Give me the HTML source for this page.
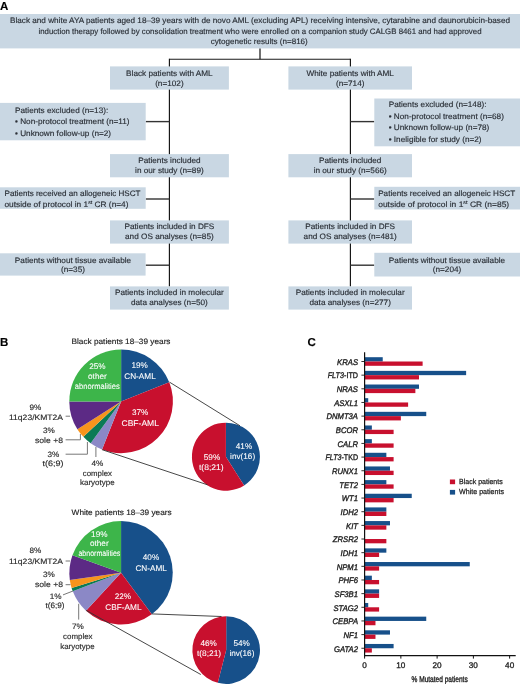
<!DOCTYPE html>
<html><head><meta charset="utf-8"><style>
html,body{margin:0;padding:0;background:#fff;width:520px;height:685px;overflow:hidden}
svg{display:block}
text{font-family:"Liberation Sans",sans-serif;text-rendering:geometricPrecision}
svg{will-change:transform}
</style></head><body>
<svg width="520" height="685" viewBox="0 0 520 685" font-family="Liberation Sans, sans-serif">
<text x="0" y="10.2" font-size="11.5" font-weight="bold" fill="#000" stroke="#000" stroke-width="0.15">A</text>
<line x1="260" y1="48.3" x2="260" y2="59.3" stroke="#333" stroke-width="1.4"/>
<line x1="169.4" y1="59.3" x2="350.4" y2="59.3" stroke="#1a1a1a" stroke-width="1.1"/>
<line x1="169.4" y1="58.8" x2="169.4" y2="286.5" stroke="#111" stroke-width="1.15"/>
<line x1="350.4" y1="58.8" x2="350.4" y2="286.5" stroke="#111" stroke-width="1.15"/>
<line x1="145.7" y1="121.6" x2="169.4" y2="121.6" stroke="#333" stroke-width="1.4"/>
<line x1="350.4" y1="121.6" x2="374.3" y2="121.6" stroke="#333" stroke-width="1.4"/>
<line x1="145.7" y1="199.0" x2="169.4" y2="199.0" stroke="#333" stroke-width="1.4"/>
<line x1="350.4" y1="199.0" x2="374.3" y2="199.0" stroke="#333" stroke-width="1.4"/>
<line x1="145.7" y1="265.2" x2="169.4" y2="265.2" stroke="#333" stroke-width="1.4"/>
<line x1="350.4" y1="265.2" x2="374.3" y2="265.2" stroke="#333" stroke-width="1.4"/>
<rect x="0" y="14" width="520" height="34.4" fill="#c9d7e3"/>
<text x="260" y="23.2" font-size="7.9" text-anchor="middle" textLength="500" lengthAdjust="spacingAndGlyphs" fill="#2a2f36" stroke="#2a2f36" stroke-width="0.15">Black and white AYA patients aged 18–39 years with de novo AML (excluding APL) receiving intensive, cytarabine and daunorubicin-based</text>
<text x="260" y="33.9" font-size="7.9" text-anchor="middle" textLength="443" lengthAdjust="spacingAndGlyphs" fill="#2a2f36" stroke="#2a2f36" stroke-width="0.15">induction therapy followed by consolidation treatment who were enrolled on a companion study CALGB 8461 and had approved</text>
<text x="259.3" y="44.2" font-size="7.9" text-anchor="middle" textLength="97" lengthAdjust="spacingAndGlyphs" fill="#2a2f36" stroke="#2a2f36" stroke-width="0.15">cytogenetic results (n=816)</text>
<rect x="110" y="66.4" width="118.9" height="23.2" fill="#c9d7e3"/>
<text x="169.4" y="75.75" font-size="7.9" text-anchor="middle" textLength="86.59" lengthAdjust="spacingAndGlyphs" fill="#2a2f36" stroke="#2a2f36" stroke-width="0.15">Black patients with AML</text>
<text x="169.4" y="85.85000000000001" font-size="7.9" text-anchor="middle" textLength="28.49" lengthAdjust="spacingAndGlyphs" fill="#2a2f36" stroke="#2a2f36" stroke-width="0.15">(n=102)</text>
<rect x="110" y="154.1" width="118.9" height="23.2" fill="#c9d7e3"/>
<text x="169.4" y="162.9" font-size="7.9" text-anchor="middle" textLength="62.45" lengthAdjust="spacingAndGlyphs" fill="#2a2f36" stroke="#2a2f36" stroke-width="0.15">Patients included</text>
<text x="169.4" y="173.0" font-size="7.9" text-anchor="middle" textLength="68.59" lengthAdjust="spacingAndGlyphs" fill="#2a2f36" stroke="#2a2f36" stroke-width="0.15">in our study (n=89)</text>
<rect x="110" y="220.4" width="118.9" height="23.2" fill="#c9d7e3"/>
<text x="169.4" y="229.20000000000002" font-size="7.9" text-anchor="middle" textLength="89.79" lengthAdjust="spacingAndGlyphs" fill="#2a2f36" stroke="#2a2f36" stroke-width="0.15">Patients included in DFS</text>
<text x="169.4" y="239.3" font-size="7.9" text-anchor="middle" textLength="88.65" lengthAdjust="spacingAndGlyphs" fill="#2a2f36" stroke="#2a2f36" stroke-width="0.15">and OS analyses (n=85)</text>
<rect x="110" y="286.4" width="118.9" height="23.2" fill="#c9d7e3"/>
<text x="169.4" y="295.2" font-size="7.9" text-anchor="middle" textLength="108.93" lengthAdjust="spacingAndGlyphs" fill="#2a2f36" stroke="#2a2f36" stroke-width="0.15">Patients included in molecular</text>
<text x="169.4" y="305.29999999999995" font-size="7.9" text-anchor="middle" textLength="76.81" lengthAdjust="spacingAndGlyphs" fill="#2a2f36" stroke="#2a2f36" stroke-width="0.15">data analyses (n=50)</text>
<rect x="288.4" y="66.4" width="123.6" height="23.2" fill="#c9d7e3"/>
<text x="350.2" y="75.75" font-size="7.9" text-anchor="middle" textLength="87.5" lengthAdjust="spacingAndGlyphs" fill="#2a2f36" stroke="#2a2f36" stroke-width="0.15">White patients with AML</text>
<text x="350.2" y="85.85000000000001" font-size="7.9" text-anchor="middle" textLength="28.49" lengthAdjust="spacingAndGlyphs" fill="#2a2f36" stroke="#2a2f36" stroke-width="0.15">(n=714)</text>
<rect x="288.4" y="154.1" width="123.6" height="23.2" fill="#c9d7e3"/>
<text x="350.2" y="162.9" font-size="7.9" text-anchor="middle" textLength="62.45" lengthAdjust="spacingAndGlyphs" fill="#2a2f36" stroke="#2a2f36" stroke-width="0.15">Patients included</text>
<text x="350.2" y="173.0" font-size="7.9" text-anchor="middle" textLength="73.15" lengthAdjust="spacingAndGlyphs" fill="#2a2f36" stroke="#2a2f36" stroke-width="0.15">in our study (n=566)</text>
<rect x="288.4" y="220.4" width="123.6" height="23.2" fill="#c9d7e3"/>
<text x="350.2" y="229.20000000000002" font-size="7.9" text-anchor="middle" textLength="89.79" lengthAdjust="spacingAndGlyphs" fill="#2a2f36" stroke="#2a2f36" stroke-width="0.15">Patients included in DFS</text>
<text x="350.2" y="239.3" font-size="7.9" text-anchor="middle" textLength="93.21" lengthAdjust="spacingAndGlyphs" fill="#2a2f36" stroke="#2a2f36" stroke-width="0.15">and OS analyses (n=481)</text>
<rect x="288.4" y="286.4" width="123.6" height="23.2" fill="#c9d7e3"/>
<text x="350.2" y="295.2" font-size="7.9" text-anchor="middle" textLength="108.93" lengthAdjust="spacingAndGlyphs" fill="#2a2f36" stroke="#2a2f36" stroke-width="0.15">Patients included in molecular</text>
<text x="350.2" y="305.29999999999995" font-size="7.9" text-anchor="middle" textLength="81.37" lengthAdjust="spacingAndGlyphs" fill="#2a2f36" stroke="#2a2f36" stroke-width="0.15">data analyses (n=277)</text>
<rect x="0" y="102.9" width="145.7" height="37.4" fill="#c9d7e3"/>
<text x="15" y="112.7" font-size="7.9" textLength="93.21" lengthAdjust="spacingAndGlyphs" fill="#2a2f36" stroke="#2a2f36" stroke-width="0.15">Patients excluded (n=13):</text>
<text x="15" y="124.1" font-size="7.9" textLength="114.6" lengthAdjust="spacingAndGlyphs" fill="#2a2f36" stroke="#2a2f36" stroke-width="0.15">• Non-protocol treatment (n=11)</text>
<text x="15" y="136.1" font-size="7.9" textLength="96.07" lengthAdjust="spacingAndGlyphs" fill="#2a2f36" stroke="#2a2f36" stroke-width="0.15">• Unknown follow-up (n=2)</text>
<rect x="0" y="187.3" width="145.7" height="21.5" fill="#c9d7e3"/>
<text x="4.5" y="196.4" font-size="7.9" textLength="136" lengthAdjust="spacingAndGlyphs" fill="#2a2f36" stroke="#2a2f36" stroke-width="0.15">Patients received an allogeneic HSCT</text>
<text x="4.5" y="206.5" font-size="7.9" textLength="124" lengthAdjust="spacingAndGlyphs" fill="#2a2f36" stroke="#2a2f36" stroke-width="0.15">outside of protocol in 1<tspan font-size="5" dy="-3">st</tspan><tspan dy="3"> CR (n=4)</tspan></text>
<rect x="0" y="253.3" width="145.6" height="22.3" fill="#c9d7e3"/>
<text x="73" y="262.6" font-size="7.9" text-anchor="middle" textLength="116.23" lengthAdjust="spacingAndGlyphs" fill="#2a2f36" stroke="#2a2f36" stroke-width="0.15">Patients without tissue available</text>
<text x="73" y="272.1" font-size="7.9" text-anchor="middle" textLength="23.93" lengthAdjust="spacingAndGlyphs" fill="#2a2f36" stroke="#2a2f36" stroke-width="0.15">(n=35)</text>
<rect x="374.3" y="98.5" width="145.7" height="47.8" fill="#c9d7e3"/>
<text x="388.7" y="106.6" font-size="7.9" textLength="97.77" lengthAdjust="spacingAndGlyphs" fill="#2a2f36" stroke="#2a2f36" stroke-width="0.15">Patients excluded (n=148):</text>
<text x="388.7" y="118.5" font-size="7.9" textLength="115.21" lengthAdjust="spacingAndGlyphs" fill="#2a2f36" stroke="#2a2f36" stroke-width="0.15">• Non-protocol treatment (n=68)</text>
<text x="388.7" y="129.9" font-size="7.9" textLength="100.63" lengthAdjust="spacingAndGlyphs" fill="#2a2f36" stroke="#2a2f36" stroke-width="0.15">• Unknown follow-up (n=78)</text>
<text x="388.7" y="141.9" font-size="7.9" textLength="92.89" lengthAdjust="spacingAndGlyphs" fill="#2a2f36" stroke="#2a2f36" stroke-width="0.15">• Ineligible for study (n=2)</text>
<rect x="374.3" y="186.8" width="145.7" height="22.7" fill="#c9d7e3"/>
<text x="378.2" y="196.4" font-size="7.9" textLength="137" lengthAdjust="spacingAndGlyphs" fill="#2a2f36" stroke="#2a2f36" stroke-width="0.15">Patients received an allogeneic HSCT</text>
<text x="378.2" y="206.5" font-size="7.9" textLength="131" lengthAdjust="spacingAndGlyphs" fill="#2a2f36" stroke="#2a2f36" stroke-width="0.15">outside of protocol in 1<tspan font-size="5" dy="-3">st</tspan><tspan dy="3"> CR (n=85)</tspan></text>
<rect x="374.3" y="252.8" width="145.7" height="23.7" fill="#c9d7e3"/>
<text x="447" y="262.6" font-size="7.9" text-anchor="middle" textLength="116.23" lengthAdjust="spacingAndGlyphs" fill="#2a2f36" stroke="#2a2f36" stroke-width="0.15">Patients without tissue available</text>
<text x="447" y="272.1" font-size="7.9" text-anchor="middle" textLength="28.49" lengthAdjust="spacingAndGlyphs" fill="#2a2f36" stroke="#2a2f36" stroke-width="0.15">(n=204)</text>
<text x="0" y="345.6" font-size="11.5" font-weight="bold" fill="#000" stroke="#000" stroke-width="0.15">B</text>
<path d="M121.10,401.40 L121.10,349.60 A51.8,51.8 0 0 1 169.26,382.33 Z" fill="#17508a"/>
<path d="M121.10,401.40 L169.26,382.33 A51.8,51.8 0 0 1 102.03,449.56 Z" fill="#c8102e"/>
<path d="M121.10,401.40 L102.03,449.56 A51.8,51.8 0 0 1 90.65,443.31 Z" fill="#8b88c6"/>
<path d="M121.10,401.40 L90.65,443.31 A51.8,51.8 0 0 1 83.34,436.86 Z" fill="#0b7a55"/>
<path d="M121.10,401.40 L83.34,436.86 A51.8,51.8 0 0 1 77.36,429.16 Z" fill="#f7941d"/>
<path d="M121.10,401.40 L77.36,429.16 A51.8,51.8 0 0 1 69.30,401.40 Z" fill="#5c2a85"/>
<path d="M121.10,401.40 L69.30,401.40 A51.8,51.8 0 0 1 121.10,349.60 Z" fill="#3db54a"/>
<path d="M225.90,456.70 L225.90,422.70 A34,34 0 0 1 244.12,485.41 Z" fill="#17508a"/>
<path d="M225.90,456.70 L244.12,485.41 A34,34 0 1 1 225.90,422.70 Z" fill="#c8102e"/>
<text x="121" y="344.0" font-size="7.8" text-anchor="middle" textLength="99" lengthAdjust="spacingAndGlyphs" fill="#222" stroke="#222" stroke-width="0.15">Black patients 18–39 years</text>
<text x="97.4" y="368.5" font-size="8.2" text-anchor="middle" fill="#ffffff" stroke="#ffffff" stroke-width="0.08">25%</text>
<text x="97.4" y="379.1" font-size="8.2" text-anchor="middle" fill="#ffffff" stroke="#ffffff" stroke-width="0.08">other</text>
<text x="97.3" y="389.1" font-size="8.2" text-anchor="middle" textLength="45" lengthAdjust="spacingAndGlyphs" fill="#ffffff" stroke="#ffffff" stroke-width="0.08">abnormalities</text>
<text x="139.6" y="368.3" font-size="8.2" text-anchor="middle" fill="#ffffff" stroke="#ffffff" stroke-width="0.08">19%</text>
<text x="140" y="378.5" font-size="8.2" text-anchor="middle" fill="#ffffff" stroke="#ffffff" stroke-width="0.08">CN-AML</text>
<text x="140.2" y="415.4" font-size="8.2" text-anchor="middle" fill="#ffffff" stroke="#ffffff" stroke-width="0.08">37%</text>
<text x="140.2" y="425.6" font-size="8.2" text-anchor="middle" textLength="37.4" lengthAdjust="spacingAndGlyphs" fill="#ffffff" stroke="#ffffff" stroke-width="0.08">CBF-AML</text>
<text x="244" y="449" font-size="8.2" text-anchor="middle" fill="#ffffff" stroke="#ffffff" stroke-width="0.08">41%</text>
<text x="242.6" y="459.2" font-size="8.2" text-anchor="middle" fill="#ffffff" stroke="#ffffff" stroke-width="0.08">inv(16)</text>
<text x="212" y="459.6" font-size="8.2" text-anchor="middle" fill="#ffffff" stroke="#ffffff" stroke-width="0.08">59%</text>
<text x="211.3" y="469.6" font-size="8.2" text-anchor="middle" textLength="24.8" lengthAdjust="spacingAndGlyphs" fill="#ffffff" stroke="#ffffff" stroke-width="0.08">t(8;21)</text>
<path d="M121.05,572.80 L121.05,521.10 A51.7,51.7 0 0 1 151.80,614.36 Z" fill="#17508a"/>
<path d="M121.05,572.80 L151.80,614.36 A51.7,51.7 0 0 1 85.99,610.80 Z" fill="#c8102e"/>
<path d="M121.05,572.80 L85.99,610.80 A51.7,51.7 0 0 1 72.78,591.33 Z" fill="#8b88c6"/>
<path d="M121.05,572.80 L72.78,591.33 A51.7,51.7 0 0 1 71.61,587.92 Z" fill="#0b7a55"/>
<path d="M121.05,572.80 L71.61,587.92 A51.7,51.7 0 0 1 69.84,579.91 Z" fill="#f7941d"/>
<path d="M121.05,572.80 L69.84,579.91 A51.7,51.7 0 0 1 72.44,555.20 Z" fill="#5c2a85"/>
<path d="M121.05,572.80 L72.44,555.20 A51.7,51.7 0 0 1 121.05,521.10 Z" fill="#3db54a"/>
<path d="M226.20,650.10 L226.20,616.30 A33.8,33.8 0 1 1 217.79,682.84 Z" fill="#17508a"/>
<path d="M226.20,650.10 L217.79,682.84 A33.8,33.8 0 0 1 226.20,616.30 Z" fill="#c8102e"/>
<text x="121.6" y="514.8" font-size="7.8" text-anchor="middle" textLength="100" lengthAdjust="spacingAndGlyphs" fill="#222" stroke="#222" stroke-width="0.15">White patients 18–39 years</text>
<text x="99.3" y="536.7" font-size="8.2" text-anchor="middle" fill="#ffffff" stroke="#ffffff" stroke-width="0.08">19%</text>
<text x="99.3" y="545.8" font-size="8.2" text-anchor="middle" fill="#ffffff" stroke="#ffffff" stroke-width="0.08">other</text>
<text x="99.4" y="555.8" font-size="8.2" text-anchor="middle" textLength="42" lengthAdjust="spacingAndGlyphs" fill="#ffffff" stroke="#ffffff" stroke-width="0.08">abnormalities</text>
<text x="151" y="559.8" font-size="8.2" text-anchor="middle" fill="#ffffff" stroke="#ffffff" stroke-width="0.08">40%</text>
<text x="151.1" y="570.5" font-size="8.2" text-anchor="middle" fill="#ffffff" stroke="#ffffff" stroke-width="0.08">CN-AML</text>
<text x="122.9" y="599" font-size="8.2" text-anchor="middle" fill="#ffffff" stroke="#ffffff" stroke-width="0.08">22%</text>
<text x="123.4" y="610.4" font-size="8.2" text-anchor="middle" textLength="36.3" lengthAdjust="spacingAndGlyphs" fill="#ffffff" stroke="#ffffff" stroke-width="0.08">CBF-AML</text>
<text x="241.7" y="645.8" font-size="8.2" text-anchor="middle" fill="#ffffff" stroke="#ffffff" stroke-width="0.08">54%</text>
<text x="241.9" y="655.8" font-size="8.2" text-anchor="middle" fill="#ffffff" stroke="#ffffff" stroke-width="0.08">inv(16)</text>
<text x="208.6" y="645.8" font-size="8.2" text-anchor="middle" fill="#ffffff" stroke="#ffffff" stroke-width="0.08">46%</text>
<text x="209" y="655.8" font-size="8.2" text-anchor="middle" textLength="24.2" lengthAdjust="spacingAndGlyphs" fill="#ffffff" stroke="#ffffff" stroke-width="0.08">t(8;21)</text>
<line x1="169.6" y1="382.2" x2="240" y2="425.8" stroke="#333" stroke-width="0.9"/>
<line x1="102.1" y1="449.7" x2="207.5" y2="484.8" stroke="#333" stroke-width="0.9"/>
<line x1="151.7" y1="613.9" x2="221.5" y2="616.5" stroke="#333" stroke-width="0.9"/>
<line x1="86.2" y1="610.4" x2="200.8" y2="674.5" stroke="#333" stroke-width="0.9"/>
<text x="35.5" y="410.0" font-size="7.8" text-anchor="middle" textLength="11.85" lengthAdjust="spacingAndGlyphs" fill="#2b2b2b" stroke="#2b2b2b" stroke-width="0.15">9%</text>
<text x="36" y="419.9" font-size="7.8" text-anchor="middle" textLength="54" lengthAdjust="spacingAndGlyphs" fill="#2b2b2b" stroke="#2b2b2b" stroke-width="0.15">11q23/KMT2A</text>
<line x1="65.6" y1="416.2" x2="70" y2="416.2" stroke="#777" stroke-width="1"/>
<text x="49" y="432.7" font-size="7.8" text-anchor="middle" textLength="11.85" lengthAdjust="spacingAndGlyphs" fill="#2b2b2b" stroke="#2b2b2b" stroke-width="0.15">3%</text>
<text x="49" y="442.6" font-size="7.8" text-anchor="middle" textLength="28" lengthAdjust="spacingAndGlyphs" fill="#2b2b2b" stroke="#2b2b2b" stroke-width="0.15">sole +8</text>
<polyline points="65.6,439.8 80.4,439.8 80.4,434" fill="none" stroke="#777" stroke-width="1"/>
<text x="53.3" y="457.2" font-size="7.8" text-anchor="middle" textLength="11.85" lengthAdjust="spacingAndGlyphs" fill="#2b2b2b" stroke="#2b2b2b" stroke-width="0.15">3%</text>
<text x="52.9" y="466.3" font-size="7.8" text-anchor="middle" textLength="21" lengthAdjust="spacingAndGlyphs" fill="#2b2b2b" stroke="#2b2b2b" stroke-width="0.15">t(6;9)</text>
<polyline points="65.6,454.2 87.4,454.2 87.4,442" fill="none" stroke="#777" stroke-width="1"/>
<line x1="95.9" y1="447" x2="95.9" y2="457" stroke="#777" stroke-width="1"/>
<text x="97.3" y="465.8" font-size="7.8" text-anchor="middle" textLength="11.85" lengthAdjust="spacingAndGlyphs" fill="#2b2b2b" stroke="#2b2b2b" stroke-width="0.15">4%</text>
<text x="97.4" y="475.7" font-size="7.8" text-anchor="middle" textLength="29.2" lengthAdjust="spacingAndGlyphs" fill="#2b2b2b" stroke="#2b2b2b" stroke-width="0.15">complex</text>
<text x="97.3" y="484.6" font-size="7.8" text-anchor="middle" textLength="34.6" lengthAdjust="spacingAndGlyphs" fill="#2b2b2b" stroke="#2b2b2b" stroke-width="0.15">karyotype</text>
<text x="35.5" y="553.0" font-size="7.8" text-anchor="middle" textLength="11.85" lengthAdjust="spacingAndGlyphs" fill="#2b2b2b" stroke="#2b2b2b" stroke-width="0.15">8%</text>
<text x="36" y="563.6" font-size="7.8" text-anchor="middle" textLength="54" lengthAdjust="spacingAndGlyphs" fill="#2b2b2b" stroke="#2b2b2b" stroke-width="0.15">11q23/KMT2A</text>
<line x1="65.6" y1="561" x2="70" y2="561" stroke="#777" stroke-width="1"/>
<text x="49" y="576.8" font-size="7.8" text-anchor="middle" textLength="11.85" lengthAdjust="spacingAndGlyphs" fill="#2b2b2b" stroke="#2b2b2b" stroke-width="0.15">3%</text>
<text x="49" y="586.8" font-size="7.8" text-anchor="middle" textLength="28" lengthAdjust="spacingAndGlyphs" fill="#2b2b2b" stroke="#2b2b2b" stroke-width="0.15">sole +8</text>
<line x1="65.6" y1="584.7" x2="70.5" y2="584.7" stroke="#777" stroke-width="1"/>
<text x="55.6" y="598.5" font-size="7.8" text-anchor="middle" textLength="11.85" lengthAdjust="spacingAndGlyphs" fill="#2b2b2b" stroke="#2b2b2b" stroke-width="0.15">1%</text>
<text x="55" y="608.3" font-size="7.8" text-anchor="middle" textLength="19" lengthAdjust="spacingAndGlyphs" fill="#2b2b2b" stroke="#2b2b2b" stroke-width="0.15">t(6;9)</text>
<line x1="63" y1="594.9" x2="73" y2="591" stroke="#777" stroke-width="1"/>
<line x1="78.7" y1="603.8" x2="78.7" y2="619.6" stroke="#777" stroke-width="1"/>
<text x="77.9" y="628.6" font-size="7.8" text-anchor="middle" textLength="11.85" lengthAdjust="spacingAndGlyphs" fill="#2b2b2b" stroke="#2b2b2b" stroke-width="0.15">7%</text>
<text x="77.8" y="638.5" font-size="7.8" text-anchor="middle" textLength="29.6" lengthAdjust="spacingAndGlyphs" fill="#2b2b2b" stroke="#2b2b2b" stroke-width="0.15">complex</text>
<text x="77.4" y="648.6" font-size="7.8" text-anchor="middle" textLength="34.3" lengthAdjust="spacingAndGlyphs" fill="#2b2b2b" stroke="#2b2b2b" stroke-width="0.15">karyotype</text>
<text x="307.5" y="345.8" font-size="11.5" font-weight="bold" fill="#000" stroke="#000" stroke-width="0.15">C</text>
<rect x="364.6" y="357.2" width="18.13" height="4.3" fill="#17508a"/>
<rect x="364.6" y="361.5" width="58.016" height="4.3" fill="#c8102e"/>
<line x1="361.4" y1="361.5" x2="364.6" y2="361.5" stroke="#333" stroke-width="1.0"/>
<text x="358" y="364.8" font-size="8.2" text-anchor="end" textLength="20.88" lengthAdjust="spacingAndGlyphs" font-style="italic" fill="#222" stroke="#222" stroke-width="0.35">KRAS</text>
<rect x="364.6" y="370.85499999999996" width="101.52799999999999" height="4.3" fill="#17508a"/>
<rect x="364.6" y="375.155" width="54.39" height="4.3" fill="#c8102e"/>
<line x1="361.4" y1="375.155" x2="364.6" y2="375.155" stroke="#333" stroke-width="1.0"/>
<text x="358" y="378.455" font-size="8.2" text-anchor="end" textLength="30.3" lengthAdjust="spacingAndGlyphs" fill="#222" stroke="#222" stroke-width="0.35"><tspan font-style="italic">FLT3</tspan>-ITD</text>
<rect x="364.6" y="384.51" width="54.39" height="4.3" fill="#17508a"/>
<rect x="364.6" y="388.81" width="50.763999999999996" height="4.3" fill="#c8102e"/>
<line x1="361.4" y1="388.81" x2="364.6" y2="388.81" stroke="#333" stroke-width="1.0"/>
<text x="358" y="392.11" font-size="8.2" text-anchor="end" textLength="21.3" lengthAdjust="spacingAndGlyphs" font-style="italic" fill="#222" stroke="#222" stroke-width="0.35">NRAS</text>
<rect x="364.6" y="398.16499999999996" width="3.626" height="4.3" fill="#17508a"/>
<rect x="364.6" y="402.465" width="43.512" height="4.3" fill="#c8102e"/>
<line x1="361.4" y1="402.465" x2="364.6" y2="402.465" stroke="#333" stroke-width="1.0"/>
<text x="358" y="405.765" font-size="8.2" text-anchor="end" textLength="23.87" lengthAdjust="spacingAndGlyphs" font-style="italic" fill="#222" stroke="#222" stroke-width="0.35">ASXL1</text>
<rect x="364.6" y="411.82" width="61.641999999999996" height="4.3" fill="#17508a"/>
<rect x="364.6" y="416.12" width="36.26" height="4.3" fill="#c8102e"/>
<line x1="361.4" y1="416.12" x2="364.6" y2="416.12" stroke="#333" stroke-width="1.0"/>
<text x="358" y="419.42" font-size="8.2" text-anchor="end" textLength="31.52" lengthAdjust="spacingAndGlyphs" font-style="italic" fill="#222" stroke="#222" stroke-width="0.35">DNMT3A</text>
<rect x="364.6" y="425.47499999999997" width="7.252" height="4.3" fill="#17508a"/>
<rect x="364.6" y="429.775" width="29.008" height="4.3" fill="#c8102e"/>
<line x1="361.4" y1="429.775" x2="364.6" y2="429.775" stroke="#333" stroke-width="1.0"/>
<text x="358" y="433.075" font-size="8.2" text-anchor="end" textLength="22.15" lengthAdjust="spacingAndGlyphs" font-style="italic" fill="#222" stroke="#222" stroke-width="0.35">BCOR</text>
<rect x="364.6" y="439.13" width="7.252" height="4.3" fill="#17508a"/>
<rect x="364.6" y="443.43" width="29.008" height="4.3" fill="#c8102e"/>
<line x1="361.4" y1="443.43" x2="364.6" y2="443.43" stroke="#333" stroke-width="1.0"/>
<text x="358" y="446.73" font-size="8.2" text-anchor="end" textLength="20.45" lengthAdjust="spacingAndGlyphs" font-style="italic" fill="#222" stroke="#222" stroke-width="0.35">CALR</text>
<rect x="364.6" y="452.78499999999997" width="21.756" height="4.3" fill="#17508a"/>
<rect x="364.6" y="457.085" width="29.008" height="4.3" fill="#c8102e"/>
<line x1="361.4" y1="457.085" x2="364.6" y2="457.085" stroke="#333" stroke-width="1.0"/>
<text x="358" y="460.385" font-size="8.2" text-anchor="end" textLength="32.5" lengthAdjust="spacingAndGlyphs" fill="#222" stroke="#222" stroke-width="0.35"><tspan font-style="italic">FLT3</tspan>-TKD</text>
<rect x="364.6" y="466.44" width="25.381999999999998" height="4.3" fill="#17508a"/>
<rect x="364.6" y="470.74" width="29.008" height="4.3" fill="#c8102e"/>
<line x1="361.4" y1="470.74" x2="364.6" y2="470.74" stroke="#333" stroke-width="1.0"/>
<text x="358" y="474.04" font-size="8.2" text-anchor="end" textLength="25.99" lengthAdjust="spacingAndGlyphs" font-style="italic" fill="#222" stroke="#222" stroke-width="0.35">RUNX1</text>
<rect x="364.6" y="480.09499999999997" width="21.756" height="4.3" fill="#17508a"/>
<rect x="364.6" y="484.395" width="29.008" height="4.3" fill="#c8102e"/>
<line x1="361.4" y1="484.395" x2="364.6" y2="484.395" stroke="#333" stroke-width="1.0"/>
<text x="358" y="487.695" font-size="8.2" text-anchor="end" textLength="18.74" lengthAdjust="spacingAndGlyphs" font-style="italic" fill="#222" stroke="#222" stroke-width="0.35">TET2</text>
<rect x="364.6" y="493.74999999999994" width="47.138" height="4.3" fill="#17508a"/>
<rect x="364.6" y="498.04999999999995" width="29.008" height="4.3" fill="#c8102e"/>
<line x1="361.4" y1="498.04999999999995" x2="364.6" y2="498.04999999999995" stroke="#333" stroke-width="1.0"/>
<text x="358" y="501.34999999999997" font-size="8.2" text-anchor="end" textLength="16.18" lengthAdjust="spacingAndGlyphs" font-style="italic" fill="#222" stroke="#222" stroke-width="0.35">WT1</text>
<rect x="364.6" y="507.405" width="21.756" height="4.3" fill="#17508a"/>
<rect x="364.6" y="511.705" width="21.756" height="4.3" fill="#c8102e"/>
<line x1="361.4" y1="511.705" x2="364.6" y2="511.705" stroke="#333" stroke-width="1.0"/>
<text x="358" y="515.005" font-size="8.2" text-anchor="end" textLength="17.47" lengthAdjust="spacingAndGlyphs" font-style="italic" fill="#222" stroke="#222" stroke-width="0.35">IDH2</text>
<rect x="364.6" y="521.0600000000001" width="25.381999999999998" height="4.3" fill="#17508a"/>
<rect x="364.6" y="525.36" width="21.756" height="4.3" fill="#c8102e"/>
<line x1="361.4" y1="525.36" x2="364.6" y2="525.36" stroke="#333" stroke-width="1.0"/>
<text x="358" y="528.66" font-size="8.2" text-anchor="end" textLength="11.93" lengthAdjust="spacingAndGlyphs" font-style="italic" fill="#222" stroke="#222" stroke-width="0.35">KIT</text>
<rect x="364.6" y="539.015" width="21.756" height="4.3" fill="#c8102e"/>
<line x1="361.4" y1="539.015" x2="364.6" y2="539.015" stroke="#333" stroke-width="1.0"/>
<text x="358" y="542.3149999999999" font-size="8.2" text-anchor="end" textLength="25.13" lengthAdjust="spacingAndGlyphs" font-style="italic" fill="#222" stroke="#222" stroke-width="0.35">ZRSR2</text>
<rect x="364.6" y="548.37" width="21.756" height="4.3" fill="#17508a"/>
<rect x="364.6" y="552.67" width="14.504" height="4.3" fill="#c8102e"/>
<line x1="361.4" y1="552.67" x2="364.6" y2="552.67" stroke="#333" stroke-width="1.0"/>
<text x="358" y="555.9699999999999" font-size="8.2" text-anchor="end" textLength="17.47" lengthAdjust="spacingAndGlyphs" font-style="italic" fill="#222" stroke="#222" stroke-width="0.35">IDH1</text>
<rect x="364.6" y="562.0250000000001" width="105.154" height="4.3" fill="#17508a"/>
<rect x="364.6" y="566.325" width="14.504" height="4.3" fill="#c8102e"/>
<line x1="361.4" y1="566.325" x2="364.6" y2="566.325" stroke="#333" stroke-width="1.0"/>
<text x="358" y="569.625" font-size="8.2" text-anchor="end" textLength="21.3" lengthAdjust="spacingAndGlyphs" font-style="italic" fill="#222" stroke="#222" stroke-width="0.35">NPM1</text>
<rect x="364.6" y="575.6800000000001" width="7.252" height="4.3" fill="#17508a"/>
<rect x="364.6" y="579.98" width="14.504" height="4.3" fill="#c8102e"/>
<line x1="361.4" y1="579.98" x2="364.6" y2="579.98" stroke="#333" stroke-width="1.0"/>
<text x="358" y="583.28" font-size="8.2" text-anchor="end" textLength="19.6" lengthAdjust="spacingAndGlyphs" font-style="italic" fill="#222" stroke="#222" stroke-width="0.35">PHF6</text>
<rect x="364.6" y="589.335" width="14.504" height="4.3" fill="#17508a"/>
<rect x="364.6" y="593.635" width="14.504" height="4.3" fill="#c8102e"/>
<line x1="361.4" y1="593.635" x2="364.6" y2="593.635" stroke="#333" stroke-width="1.0"/>
<text x="358" y="596.935" font-size="8.2" text-anchor="end" textLength="23.44" lengthAdjust="spacingAndGlyphs" font-style="italic" fill="#222" stroke="#222" stroke-width="0.35">SF3B1</text>
<rect x="364.6" y="602.99" width="3.626" height="4.3" fill="#17508a"/>
<rect x="364.6" y="607.29" width="14.504" height="4.3" fill="#c8102e"/>
<line x1="361.4" y1="607.29" x2="364.6" y2="607.29" stroke="#333" stroke-width="1.0"/>
<text x="358" y="610.5899999999999" font-size="8.2" text-anchor="end" textLength="24.57" lengthAdjust="spacingAndGlyphs" font-style="italic" fill="#222" stroke="#222" stroke-width="0.35">STAG2</text>
<rect x="364.6" y="616.645" width="61.641999999999996" height="4.3" fill="#17508a"/>
<rect x="364.6" y="620.9449999999999" width="10.878" height="4.3" fill="#c8102e"/>
<line x1="361.4" y1="620.9449999999999" x2="364.6" y2="620.9449999999999" stroke="#333" stroke-width="1.0"/>
<text x="358" y="624.2449999999999" font-size="8.2" text-anchor="end" textLength="25.42" lengthAdjust="spacingAndGlyphs" font-style="italic" fill="#222" stroke="#222" stroke-width="0.35">CEBPA</text>
<rect x="364.6" y="630.3" width="25.381999999999998" height="4.3" fill="#17508a"/>
<rect x="364.6" y="634.5999999999999" width="10.878" height="4.3" fill="#c8102e"/>
<line x1="361.4" y1="634.5999999999999" x2="364.6" y2="634.5999999999999" stroke="#333" stroke-width="1.0"/>
<text x="358" y="637.8999999999999" font-size="8.2" text-anchor="end" textLength="14.48" lengthAdjust="spacingAndGlyphs" font-style="italic" fill="#222" stroke="#222" stroke-width="0.35">NF1</text>
<rect x="364.6" y="643.955" width="29.008" height="4.3" fill="#17508a"/>
<rect x="364.6" y="648.255" width="7.252" height="4.3" fill="#c8102e"/>
<line x1="361.4" y1="648.255" x2="364.6" y2="648.255" stroke="#333" stroke-width="1.0"/>
<text x="358" y="651.555" font-size="8.2" text-anchor="end" textLength="24.0" lengthAdjust="spacingAndGlyphs" font-style="italic" fill="#222" stroke="#222" stroke-width="0.35">GATA2</text>
<line x1="364.6" y1="352.2" x2="364.6" y2="656.2" stroke="#111" stroke-width="1.2"/>
<line x1="364.0" y1="655.6" x2="515.7" y2="655.6" stroke="#111" stroke-width="1.2"/>
<line x1="364.6" y1="655.6" x2="364.6" y2="658.6" stroke="#111" stroke-width="1"/>
<text x="364.6" y="667.6" font-size="8.2" text-anchor="middle" fill="#222" stroke="#222" stroke-width="0.3">0</text>
<line x1="400.86" y1="655.6" x2="400.86" y2="658.6" stroke="#111" stroke-width="1"/>
<text x="400.86" y="667.6" font-size="8.2" text-anchor="middle" fill="#222" stroke="#222" stroke-width="0.3">10</text>
<line x1="437.12" y1="655.6" x2="437.12" y2="658.6" stroke="#111" stroke-width="1"/>
<text x="437.12" y="667.6" font-size="8.2" text-anchor="middle" fill="#222" stroke="#222" stroke-width="0.3">20</text>
<line x1="473.38" y1="655.6" x2="473.38" y2="658.6" stroke="#111" stroke-width="1"/>
<text x="473.38" y="667.6" font-size="8.2" text-anchor="middle" fill="#222" stroke="#222" stroke-width="0.3">30</text>
<line x1="509.64" y1="655.6" x2="509.64" y2="658.6" stroke="#111" stroke-width="1"/>
<text x="509.64" y="667.6" font-size="8.2" text-anchor="middle" fill="#222" stroke="#222" stroke-width="0.3">40</text>
<text x="439.6" y="682.3" font-size="8.4" text-anchor="middle" textLength="56.2" lengthAdjust="spacingAndGlyphs" fill="#222" stroke="#222" stroke-width="0.35">% Mutated patients</text>
<rect x="449.9" y="479.5" width="5.2" height="4.7" fill="#c8102e"/>
<rect x="449.9" y="489.9" width="5.2" height="4.7" fill="#17508a"/>
<text x="459.1" y="483.8" font-size="7.3" textLength="43.6" lengthAdjust="spacingAndGlyphs" fill="#222" stroke="#222" stroke-width="0.25">Black patients</text>
<text x="459.1" y="494.2" font-size="7.3" textLength="44.9" lengthAdjust="spacingAndGlyphs" fill="#222" stroke="#222" stroke-width="0.25">White patients</text>
</svg>
</body></html>
